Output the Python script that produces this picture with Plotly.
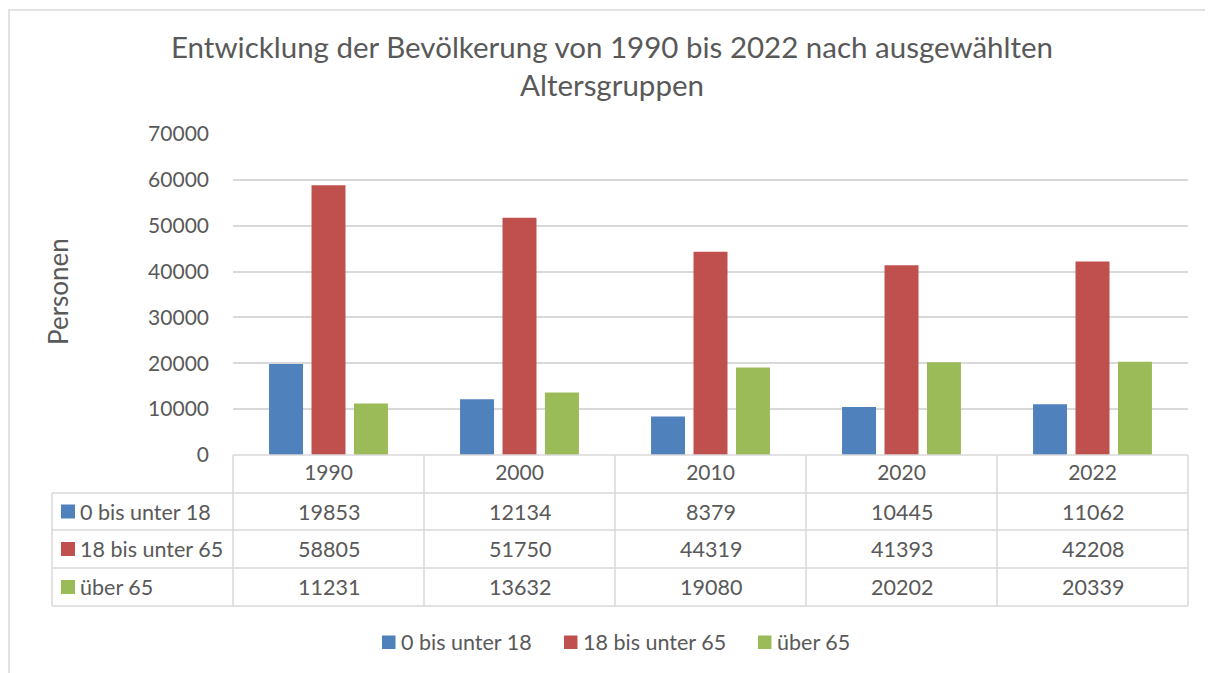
import plotly.graph_objects as go

years = ["1990", "2000", "2010", "2020", "2022"]
series_names = ["0 bis unter 18", "18 bis unter 65", "über 65"]
v_0_18 = [19853, 12134, 8379, 10445, 11062]
v_18_65 = [58805, 51750, 44319, 41393, 42208]
v_65 = [11231, 13632, 19080, 20202, 20339]
colors = ["#4F81BD", "#C0504D", "#9BBB59"]
y_ticks = [0, 10000, 20000, 30000, 40000, 50000, 60000, 70000]

OFF = 8  # page body margin
W, H = 1213 - OFF, 673 - OFF
# plot area in page px
L, R, T, B = 233, 1188, 134, 455
FONT = "Lato"
TXT = "#595959"
GRID = "#D9D9D9"

def px(x):
    return (x - L) / (R - L)

def py(y):
    return (B - y) / (B - T)

fig = go.Figure()
all_vals = [v_0_18, v_18_65, v_65]
for name, vals, c in zip(series_names, all_vals, colors):
    fig.add_trace(go.Bar(x=years, y=vals, name=name, showlegend=False,
                         marker=dict(color=c, line=dict(width=0))))

shapes = []
annotations = []
n = len(years)
# chart border
shapes.append(dict(type="rect", xref="paper", yref="paper", x0=px(9), x1=px(1240), y0=py(700), y1=py(10),
                   line=dict(color=GRID, width=1.5), layer="below"))
# data table
rows_y = [455, 493, 530, 568, 606]
col_left = 52
shapes.append(dict(type="line", xref="paper", yref="paper", x0=0, x1=1, y0=py(rows_y[0]), y1=py(rows_y[0]),
                   line=dict(color=GRID, width=1.5)))
for yy in rows_y[1:]:
    shapes.append(dict(type="line", xref="paper", yref="paper", x0=px(col_left), x1=1, y0=py(yy), y1=py(yy),
                       line=dict(color=GRID, width=1.5)))
shapes.append(dict(type="line", xref="paper", yref="paper", x0=px(col_left), x1=px(col_left),
                   y0=py(rows_y[1]), y1=py(rows_y[-1]), line=dict(color=GRID, width=1.5)))
for i in range(n + 1):
    xx = i / n
    shapes.append(dict(type="line", xref="paper", yref="paper", x0=xx, x1=xx,
                       y0=py(rows_y[0]), y1=py(rows_y[-1]), line=dict(color=GRID, width=1.5)))
for r, (name, vals, c) in enumerate(zip(series_names, all_vals, colors)):
    top, bot = rows_y[r + 1], rows_y[r + 2]
    cy = (top + bot) / 2
    shapes.append(dict(type="rect", xref="paper", yref="paper", x0=px(61), x1=px(75),
                       y0=py(cy + 7), y1=py(cy - 7), fillcolor=c, line=dict(width=0)))
    annotations.append(dict(xref="paper", yref="paper", x=px(78), y=py(cy), text=name, showarrow=False,
                            xanchor="left", yanchor="middle", font=dict(family=FONT, size=21.5, color=TXT)))
    for i, v in enumerate(vals):
        annotations.append(dict(xref="paper", yref="paper", x=(i + 0.5) / n, y=py(cy), text=str(v),
                                showarrow=False, xanchor="center", yanchor="middle",
                                font=dict(family=FONT, size=21.5, color=TXT)))

# custom legend (Excel style)
leg_sq = [382, 564, 758]
for name, c, x0 in zip(series_names, colors, leg_sq):
    shapes.append(dict(type="rect", xref="paper", yref="paper", x0=px(x0), x1=px(x0 + 13.5),
                       y0=py(649), y1=py(635.5), fillcolor=c, line=dict(width=0)))
    annotations.append(dict(xref="paper", yref="paper", x=px(x0 + 17), y=py(642), text=name, showarrow=False,
                            xanchor="left", yanchor="middle", font=dict(family=FONT, size=21.5, color=TXT)))

# y-axis title
annotations.append(dict(xref="paper", yref="paper", x=px(58), y=py(292), text="Personen", textangle=-90,
                        showarrow=False, xanchor="center", yanchor="middle",
                        font=dict(family=FONT, size=26, color=TXT)))

fig.update_layout(
    width=W, height=H,
    margin=dict(l=L - OFF, r=W - (R - OFF), t=T - OFF, b=H - (B - OFF), pad=0, autoexpand=False),
    paper_bgcolor="white", plot_bgcolor="white",
    barmode="group", bargap=0.333, bargroupgap=0.2,
    font=dict(family=FONT, color=TXT, size=21),
    title=dict(text="Entwicklung der Bevölkerung von 1990 bis 2022 nach ausgewählten<br>Altersgruppen",
               x=px(612), xref="paper", xanchor="center", y=(H - (58 - OFF)) / H, yanchor="middle",
               font=dict(family=FONT, size=29.5, color=TXT)),
    xaxis=dict(showgrid=False, showline=False, ticks="", tickfont=dict(size=21, color=TXT),
               ticklabelstandoff=3, zeroline=False, automargin=False),
    yaxis=dict(range=[0, 70000], tickvals=y_ticks, showgrid=True, gridcolor=GRID, gridwidth=1.5,
               zeroline=False, showline=False, ticks="", tickfont=dict(size=21, color=TXT),
               ticklabelstandoff=23, tickformat="d", automargin=False),
    showlegend=False,
    shapes=shapes, annotations=annotations,
)

fig.write_html("out.html")
